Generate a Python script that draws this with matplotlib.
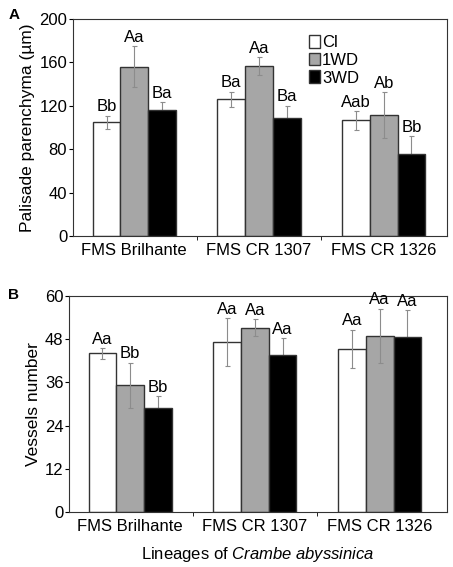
import numpy as np
import matplotlib
matplotlib.use("Agg")
import matplotlib.pyplot as plt

plt.rcParams['font.family'] = ['Liberation Sans', 'DejaVu Sans']
plt.rcParams['mathtext.fontset'] = 'custom'
plt.rcParams['mathtext.rm'] = 'Liberation Sans'
plt.rcParams['mathtext.it'] = 'Liberation Sans:italic'

lineages = ["FMS Brilhante", "FMS CR 1307", "FMS CR 1326"]
treatments = ["Cl", "1WD", "3WD"]
colors = ["white", "#a6a6a6", "black"]

# Panel A - palisade parenchyma (um)
pal_mean = {
    "Cl": [105, 126, 106.5],
    "1WD": [156, 156.5, 111.5],
    "3WD": [116.5, 108.5, 75.5],
}
pal_err = {
    "Cl": [6, 7, 8.5],
    "1WD": [19, 8.5, 21],
    "3WD": [7, 11.5, 16.5],
}
pal_letters = {
    "Cl": ["Bb", "Ba", "Aab"],
    "1WD": ["Aa", "Aa", "Ab"],
    "3WD": ["Ba", "Ba", "Bb"],
}

# Panel B - vessels number
ves_mean = {
    "Cl": [44.0, 47.2, 45.3],
    "1WD": [35.2, 51.1, 48.9],
    "3WD": [28.8, 43.5, 48.6],
}
ves_err = {
    "Cl": [1.4, 6.6, 5.3],
    "1WD": [6.2, 2.4, 7.5],
    "3WD": [3.4, 4.7, 7.4],
}
ves_letters = {
    "Cl": ["Aa", "Aa", "Aa"],
    "1WD": ["Bb", "Aa", "Aa"],
    "3WD": ["Bb", "Aa", "Aa"],
}

FS = 12


def draw_panel(ax, means, errs, letters, ymax, yticks, ylabel, xlim):
    x = np.arange(len(lineages))
    width = 0.222
    for i, t in enumerate(treatments):
        pos = x + (i - 1) * width
        ax.bar(pos, means[t], width, color=colors[i], edgecolor="#333333",
               linewidth=1.0, label=t, zorder=2)
        # error bars of the black bars sit behind them (lower half hidden)
        ez = 1 if t == "3WD" else 3
        ax.errorbar(pos, means[t], yerr=errs[t], fmt="none", ecolor="#8c8c8c",
                    elinewidth=0.8, capsize=1.8, capthick=0.8, zorder=ez)
        for p, m, e, lab in zip(pos, means[t], errs[t], letters[t]):
            ax.annotate(lab, (p, m + e), xytext=(0, 1), textcoords="offset points",
                        ha="center", va="bottom", fontsize=FS)
    ax.set_ylim(0, ymax)
    ax.set_xlim(*xlim)
    ax.set_yticks(yticks)
    ax.set_xticks(x)
    ax.set_xticklabels(lineages, fontsize=FS)
    ax.set_xticks([0.5, 1.5], minor=True)
    ax.tick_params(axis="x", which="major", length=0, pad=5)
    ax.tick_params(axis="x", which="minor", length=3, direction="out")
    ax.tick_params(axis="y", length=3, direction="out", labelsize=FS, pad=1)
    ax.set_ylabel(ylabel, fontsize=12.5, labelpad=3)
    for s in ax.spines.values():
        s.set_linewidth(0.8)
        s.set_color("#333333")


fig = plt.figure(figsize=(4.53, 5.67), dpi=100)
ax_a = fig.add_axes([0.1605, 0.5838, 0.8255, 0.3827])
ax_b = fig.add_axes([0.1523, 0.0965, 0.8337, 0.382])

draw_panel(ax_a, pal_mean, pal_err, pal_letters, 200, [0, 40, 80, 120, 160, 200],
           "Palisade parenchyma (µm)", (-0.494, 2.505))
draw_panel(ax_b, ves_mean, ves_err, ves_letters, 60, [0, 12, 24, 36, 48, 60],
           "Vessels number", (-0.49, 2.537))

ax_a.legend(loc="upper left", bbox_to_anchor=(0.6, 0.98), frameon=False,
            fontsize=FS, handlelength=0.7, handleheight=0.8, handletextpad=0.1,
            labelspacing=0.15, borderpad=0.2)

ax_b.set_xlabel("Lineages of $\\it{Crambe\\ abyssinica}$", fontsize=12, labelpad=8)

fig.text(0.018, 0.974, "A", fontsize=11, fontweight="bold", va="center")
fig.text(0.018, 0.48, "B", fontsize=11, fontweight="bold", va="center")

fig.savefig("out.png", dpi=100)
